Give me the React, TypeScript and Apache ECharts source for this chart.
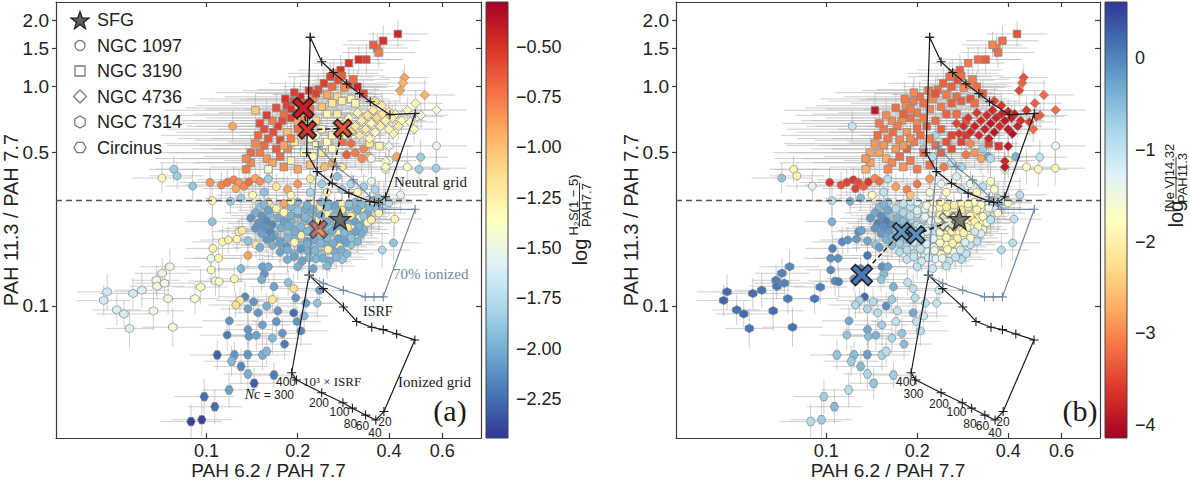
import React, { useEffect, useRef } from "react";
import * as echarts from "echarts";

// ---------------- axis / tick data ----------------
const X_TICKS = [0.1, 0.2, 0.4, 0.6];
const X_TICK_LABELS = ["0.1", "0.2", "0.4", "0.6"];
const Y_TICKS = [0.1, 0.5, 1.0, 1.5, 2.0];
const Y_TICK_LABELS = ["0.1", "0.5", "1.0", "1.5", "2.0"];
const X_LIMITS = [0.03187, 0.805];
const Y_LIMITS = [0.025, 2.433];
const X_TITLE = "PAH 6.2 / PAH 7.7";
const Y_TITLE = "PAH 11.3 / PAH 7.7";
const DIVIDER_Y = 0.3;
const CBAR_A_TICKS = [-2.25, -2.0, -1.75, -1.5, -1.25, -1.0, -0.75, -0.5];
const CBAR_A_LIMITS = [-2.444, -0.278];
const CBAR_B_TICKS = [-4, -3, -2, -1, 0];
const CBAR_B_LIMITS = [-4.14, 0.61];
const RDYLBU = ["#a50026", "#d73027", "#f46d43", "#fdae61", "#fee090", "#ffffbf", "#e0f3f8", "#abd9e9", "#74add1", "#4575b4", "#313695"];
const LEGEND_NAMES = ["SFG", "NGC 1097", "NGC 3190", "NGC 4736", "NGC 7314", "Circinus"];

// ---------------- measurements: [PAH6.2/7.7, PAH11.3/7.7, log H2/PAH7.7, log NeV/PAH11.3, xerr(dex), yerr(dex)] ----------------
const NGC7314 = [
  [0.0458, 0.106, -1.65, 0.25, 0.09, 0.07], [0.047, 0.116, -1.65, 0.2, 0.1, 0.08], [0.0506, 0.096, -1.62, 0.15, 0.08, 0.07],
  [0.0534, 0.092, -1.62, 0.22, 0.09, 0.06], [0.0557, 0.079, -1.6, 0.1, 0.08, 0.09], [0.0572, 0.114, -1.65, 0.18, 0.11, 0.07],
  [0.0612, 0.118, -1.6, 0.12, 0.09, 0.08], [0.0668, 0.095, -1.5, 0.2, 0.1, 0.09], [0.0683, 0.131, -1.5, 0.05, 0.08, 0.07],
  [0.0687, 0.123, -1.48, 0.1, 0.09, 0.06], [0.0727, 0.127, -1.5, 0.0, 0.1, 0.08], [0.0747, 0.108, -1.48, 0.08, 0.09, 0.07],
  [0.0757, 0.151, -1.5, -0.05, 0.1, 0.08], [0.0714, 0.141, -1.52, 0.02, 0.09, 0.07], [0.0774, 0.08, -1.45, 0.15, 0.1, 0.09],
  [0.0916, 0.108, -1.45, 0.1, 0.08, 0.07], [0.0956, 0.122, -1.35, 0.05, 0.09, 0.08],
];

const CIRCINUS = [
  [0.1085, 0.0598, -2.3, -0.6, 0.09, 0.07], [0.1236, 0.0598, -2.1, -0.5, 0.08, 0.06], [0.121, 0.056, -1.95, -0.7, 0.09, 0.07],
  [0.1368, 0.06, -2.1, -0.2, 0.07, 0.06], [0.153, 0.0598, -2.0, -0.8, 0.09, 0.07], [0.158, 0.062, -1.95, -0.9, 0.08, 0.06],
  [0.13, 0.053, -2.15, -0.5, 0.09, 0.08], [0.137, 0.049, -2.0, -0.8, 0.08, 0.07], [0.167, 0.0484, -2.2, -0.7, 0.07, 0.06],
  [0.1436, 0.0444, -2.3, -0.6, 0.08, 0.07], [0.1187, 0.0414, -2.05, -0.9, 0.09, 0.08], [0.0983, 0.0386, -2.25, -0.7, 0.1, 0.08],
  [0.1065, 0.0347, -2.25, -0.5, 0.09, 0.08], [0.0965, 0.0303, -2.4, -0.7, 0.1, 0.08], [0.0889, 0.0297, -2.4, -0.9, 0.1, 0.08],
];

const NGC1097 = [
  // left outliers
  [0.078, 0.42, -1.85, -1.9, 0.08, 0.06], [0.08, 0.392, -1.85, -1.9, 0.09, 0.06], [0.0713, 0.383, -1.3, -0.6, 0.1, 0.07],
  [0.09, 0.352, -1.9, -1.3, 0.09, 0.07], [0.1027, 0.366, -0.85, -3.6, 0.1, 0.07], [0.1045, 0.302, -1.3, -0.9, 0.09, 0.07],
  [0.122, 0.66, -0.9, -1.0, 0.12, 0.07],
  // band above divider
  [0.112, 0.356, -0.8, -3.4, 0.12, 0.06], [0.117, 0.366, -0.75, -3.5, 0.1, 0.06], [0.123, 0.376, -0.78, -3.6, 0.12, 0.06],
  [0.128, 0.365, -0.85, -3.45, 0.1, 0.06], [0.133, 0.351, -0.8, -3.3, 0.12, 0.07], [0.125, 0.343, -0.9, -3.5, 0.11, 0.06],
  [0.138, 0.368, -0.7, -3.6, 0.12, 0.06], [0.145, 0.382, -0.9, -3.0, 0.1, 0.06], [0.15, 0.37, -0.82, -3.2, 0.12, 0.06],
  // lower middle
  [0.1035, 0.165, -1.5, -0.1, 0.09, 0.07], [0.1035, 0.146, -1.35, -0.05, 0.08, 0.07], [0.105, 0.183, -1.3, 0.0, 0.09, 0.06],
  [0.1095, 0.165, -1.3, -0.1, 0.08, 0.06], [0.113, 0.196, -1.3, -0.05, 0.1, 0.07], [0.118, 0.2, -1.25, -0.15, 0.09, 0.06],
  [0.126, 0.202, -1.3, -0.2, 0.08, 0.06], [0.128, 0.218, -1.25, -0.1, 0.09, 0.06], [0.131, 0.221, -1.2, -0.25, 0.08, 0.07],
  [0.107, 0.13, -1.45, -0.05, 0.09, 0.07], [0.11, 0.129, -1.4, 0.05, 0.08, 0.07], [0.1236, 0.133, -1.3, -0.2, 0.09, 0.06],
  [0.1045, 0.2423, -1.9, -0.4, 0.09, 0.07], [0.13, 0.148, -1.95, 0.0, 0.08, 0.06], [0.137, 0.198, -1.9, -0.3, 0.09, 0.06],
  [0.1457, 0.19, -1.2, -0.6, 0.08, 0.06], [0.137, 0.17, -0.9, 0.1, 0.08, 0.06], [0.15, 0.185, -2.0, -0.2, 0.09, 0.06],
  [0.153, 0.151, -2.05, -0.1, 0.08, 0.06], [0.16, 0.151, -2.0, -0.3, 0.09, 0.07], [0.155, 0.14, -2.1, -0.5, 0.08, 0.06],
  [0.152, 0.132, -2.0, -0.6, 0.09, 0.06], [0.167, 0.1225, -2.05, -0.4, 0.08, 0.06], [0.134, 0.11, -2.15, 0.2, 0.09, 0.07],
  [0.129, 0.106, -1.2, -0.8, 0.08, 0.06], [0.125, 0.101, -1.15, -0.85, 0.09, 0.06], [0.143, 0.1045, -2.1, -0.9, 0.08, 0.06],
  [0.137, 0.097, -2.05, -0.8, 0.09, 0.07], [0.148, 0.093, -2.1, -0.9, 0.08, 0.07], [0.158, 0.1, -2.0, -0.1, 0.09, 0.06],
  [0.165, 0.107, -1.2, -0.7, 0.08, 0.06], [0.172, 0.095, -2.1, -1.0, 0.08, 0.07], [0.197, 0.109, -2.1, -0.9, 0.09, 0.06],
  [0.194, 0.12, -1.15, -0.95, 0.08, 0.07], [0.186, 0.128, -1.9, -1.0, 0.09, 0.06], [0.213, 0.103, -2.05, -0.9, 0.09, 0.06],
  [0.236, 0.118, -2.05, -1.1, 0.08, 0.06], [0.232, 0.103, -1.9, -1.0, 0.09, 0.07], [0.119, 0.0855, -2.1, -0.3, 0.09, 0.07],
  [0.137, 0.078, -2.1, -0.3, 0.08, 0.07], [0.153, 0.082, -2.05, -0.7, 0.09, 0.07], [0.117, 0.0737, -2.2, -0.6, 0.09, 0.07],
  [0.138, 0.0727, -2.1, -0.5, 0.08, 0.06], [0.146, 0.0735, -2.05, -0.4, 0.08, 0.07], [0.165, 0.0712, -1.95, -0.8, 0.09, 0.07],
  [0.178, 0.075, -2.1, -0.6, 0.08, 0.07], [0.181, 0.067, -2.2, -0.5, 0.09, 0.07], [0.194, 0.093, -2.25, -0.3, 0.08, 0.06],
  [0.205, 0.077, -2.15, -0.9, 0.09, 0.07], [0.199, 0.085, -2.1, -1.0, 0.08, 0.07], [0.21, 0.09, -1.95, -1.1, 0.08, 0.07],
  [0.17, 0.085, -2.1, -1.0, 0.08, 0.07],
  // central cluster
  [0.16, 0.297, -1.2, -0.7, 0.08, 0.06], [0.18, 0.293, -0.9, -1.0, 0.1, 0.05], [0.2, 0.298, -1.95, -1.3, 0.07, 0.06],
  [0.225, 0.292, -1.25, -1.8, 0.09, 0.05], [0.25, 0.296, -1.9, -1.6, 0.08, 0.06], [0.28, 0.291, -1.3, -1.9, 0.07, 0.05],
  [0.31, 0.297, -1.95, -1.8, 0.08, 0.06], [0.345, 0.293, -1.85, -1.2, 0.09, 0.05],
  [0.15, 0.282, -1.9, -0.5, 0.1, 0.06], [0.17, 0.278, -1.25, -0.9, 0.08, 0.05], [0.19, 0.283, -1.95, -1.0, 0.09, 0.06],
  [0.212, 0.277, -2.0, -1.4, 0.07, 0.05], [0.237, 0.281, -1.2, -1.9, 0.08, 0.06], [0.265, 0.279, -1.95, -1.7, 0.09, 0.05],
  [0.295, 0.283, -2.0, -1.9, 0.07, 0.06], [0.33, 0.277, -1.25, -1.8, 0.08, 0.05], [0.36, 0.281, -1.9, -1.1, 0.09, 0.06],
  [0.145, 0.266, -2.0, -0.3, 0.1, 0.06], [0.162, 0.262, -1.95, -0.6, 0.08, 0.05], [0.18, 0.267, -1.3, -0.8, 0.09, 0.06],
  [0.2, 0.263, -2.05, -1.1, 0.07, 0.05], [0.224, 0.266, -1.95, -1.5, 0.08, 0.06], [0.25, 0.262, -1.25, -1.9, 0.09, 0.05],
  [0.28, 0.267, -2.0, -1.8, 0.07, 0.06], [0.31, 0.263, -1.9, -1.9, 0.08, 0.05], [0.34, 0.266, -2.0, -1.0, 0.09, 0.06],
  [0.14, 0.251, -2.1, -0.2, 0.1, 0.06], [0.155, 0.248, -2.05, -0.1, 0.08, 0.05], [0.172, 0.252, -2.0, -0.4, 0.09, 0.06],
  [0.19, 0.247, -1.95, -0.8, 0.07, 0.05], [0.21, 0.251, -2.0, -1.1, 0.08, 0.06], [0.235, 0.248, -1.2, -1.5, 0.09, 0.05],
  [0.26, 0.252, -1.95, -1.9, 0.07, 0.06], [0.29, 0.247, -2.0, -1.8, 0.08, 0.05], [0.32, 0.251, -1.3, -1.9, 0.09, 0.06],
  [0.35, 0.248, -1.9, -1.0, 0.08, 0.05],
  [0.148, 0.238, -2.1, 0.0, 0.1, 0.06], [0.165, 0.235, -2.15, -0.1, 0.08, 0.05], [0.183, 0.239, -2.0, -0.5, 0.09, 0.06],
  [0.2, 0.234, -1.9, -0.9, 0.07, 0.05], [0.22, 0.238, -1.95, -1.2, 0.08, 0.06], [0.245, 0.235, -2.0, -1.7, 0.09, 0.05],
  [0.27, 0.239, -1.25, -1.9, 0.07, 0.06], [0.3, 0.234, -1.95, -1.8, 0.08, 0.05], [0.33, 0.238, -2.0, -1.7, 0.09, 0.06],
  [0.145, 0.226, -2.1, -0.15, 0.1, 0.06], [0.16, 0.223, -2.05, 0.05, 0.08, 0.05], [0.176, 0.227, -2.0, -0.3, 0.09, 0.06],
  [0.193, 0.222, -1.95, -0.9, 0.07, 0.05], [0.212, 0.226, -1.2, -1.3, 0.08, 0.06], [0.232, 0.223, -2.0, -1.0, 0.09, 0.05],
  [0.255, 0.227, -1.9, -1.8, 0.07, 0.06], [0.28, 0.222, -2.0, -1.9, 0.08, 0.05], [0.305, 0.226, -1.3, -1.7, 0.09, 0.06],
  [0.33, 0.223, -1.95, -1.9, 0.08, 0.05],
  [0.152, 0.214, -2.05, -0.2, 0.1, 0.06], [0.168, 0.211, -2.0, -0.6, 0.08, 0.05], [0.186, 0.215, -1.9, -0.9, 0.09, 0.06],
  [0.205, 0.21, -1.25, -1.2, 0.07, 0.05], [0.225, 0.214, -2.0, -1.0, 0.08, 0.06], [0.247, 0.211, -1.95, -1.8, 0.09, 0.05],
  [0.27, 0.215, -1.3, -1.9, 0.07, 0.06], [0.297, 0.21, -1.95, -1.7, 0.08, 0.05], [0.325, 0.214, -2.0, -1.2, 0.09, 0.06],
  [0.158, 0.201, -2.1, -0.4, 0.1, 0.06], [0.175, 0.198, -2.0, -0.7, 0.08, 0.05], [0.195, 0.202, -1.95, -1.0, 0.09, 0.06],
  [0.215, 0.197, -2.05, -1.3, 0.07, 0.05], [0.237, 0.201, -1.9, -1.8, 0.08, 0.06], [0.26, 0.198, -1.25, -1.9, 0.09, 0.05],
  [0.285, 0.202, -2.0, -1.7, 0.07, 0.06], [0.315, 0.197, -1.95, -1.0, 0.08, 0.05],
  [0.165, 0.189, -2.0, -0.5, 0.1, 0.06], [0.184, 0.186, -2.1, -0.8, 0.08, 0.05], [0.205, 0.19, -1.95, -1.0, 0.09, 0.06],
  [0.227, 0.185, -1.9, -1.4, 0.07, 0.05], [0.25, 0.189, -2.0, -1.8, 0.08, 0.06], [0.275, 0.186, -1.25, -1.9, 0.09, 0.05],
  [0.3, 0.19, -1.9, -1.0, 0.08, 0.06],
  [0.175, 0.176, -2.05, -0.9, 0.1, 0.06], [0.195, 0.173, -1.95, -1.0, 0.08, 0.05], [0.217, 0.177, -2.0, -1.3, 0.09, 0.06],
  [0.24, 0.172, -1.9, -1.8, 0.07, 0.05], [0.265, 0.176, -2.0, -1.5, 0.08, 0.06], [0.29, 0.173, -1.95, -1.0, 0.09, 0.05],
  [0.185, 0.163, -2.0, -1.0, 0.1, 0.06], [0.207, 0.16, -2.05, -1.1, 0.08, 0.05], [0.23, 0.164, -1.95, -1.3, 0.09, 0.06],
  [0.255, 0.16, -2.0, -1.0, 0.07, 0.05], [0.28, 0.163, -1.9, -0.9, 0.08, 0.06],
  [0.2, 0.151, -2.0, -1.0, 0.09, 0.06], [0.225, 0.148, -2.05, -1.1, 0.08, 0.05], [0.25, 0.152, -1.95, -1.0, 0.09, 0.06],
  // central cluster, second layer
  [0.155, 0.29, -1.95, -0.4, 0.11, 0.06], [0.19, 0.3, -1.3, -1.1, 0.09, 0.05], [0.215, 0.287, -2.0, -1.5, 0.08, 0.06],
  [0.24, 0.298, -1.95, -1.9, 0.09, 0.05], [0.265, 0.288, -2.05, -2.0, 0.08, 0.06], [0.295, 0.292, -1.9, -1.9, 0.09, 0.05],
  [0.325, 0.289, -1.95, -1.7, 0.08, 0.06], [0.355, 0.3, -1.3, -1.0, 0.09, 0.05],
  [0.16, 0.273, -2.05, -0.3, 0.1, 0.06], [0.2, 0.272, -1.9, -1.2, 0.09, 0.05], [0.225, 0.276, -2.0, -1.6, 0.08, 0.06],
  [0.25, 0.283, -1.95, -2.0, 0.09, 0.05], [0.28, 0.274, -1.2, -2.0, 0.08, 0.06], [0.315, 0.275, -2.0, -1.9, 0.09, 0.05],
  [0.345, 0.28, -1.95, -1.6, 0.08, 0.06],
  [0.152, 0.258, -2.1, -0.1, 0.1, 0.06], [0.19, 0.258, -2.0, -0.9, 0.09, 0.05], [0.212, 0.255, -1.95, -1.3, 0.08, 0.06],
  [0.238, 0.26, -2.0, -1.8, 0.09, 0.05], [0.265, 0.257, -1.95, -2.0, 0.08, 0.06], [0.3, 0.257, -1.2, -1.95, 0.09, 0.05],
  [0.33, 0.256, -1.9, -1.8, 0.08, 0.06],
  [0.158, 0.243, -2.15, 0.05, 0.1, 0.06], [0.18, 0.243, -2.05, -0.5, 0.09, 0.05], [0.222, 0.244, -1.95, -1.4, 0.08, 0.06],
  [0.25, 0.241, -2.0, -2.0, 0.09, 0.05], [0.28, 0.243, -1.95, -1.9, 0.08, 0.06], [0.31, 0.242, -2.05, -2.0, 0.09, 0.05],
  [0.34, 0.24, -1.3, -1.7, 0.08, 0.06],
  [0.154, 0.23, -2.1, -0.1, 0.1, 0.06], [0.186, 0.232, -2.0, -0.7, 0.09, 0.05], [0.205, 0.229, -1.95, -1.1, 0.08, 0.06],
  [0.24, 0.23, -2.05, -1.9, 0.09, 0.05], [0.268, 0.231, -1.95, -2.0, 0.08, 0.06], [0.292, 0.228, -1.25, -1.9, 0.09, 0.05],
  [0.318, 0.23, -2.0, -1.8, 0.08, 0.06],
  [0.162, 0.218, -2.15, -0.2, 0.1, 0.06], [0.196, 0.218, -2.0, -0.9, 0.09, 0.05], [0.215, 0.219, -1.95, -1.2, 0.08, 0.06],
  [0.238, 0.217, -1.2, -1.7, 0.09, 0.05], [0.26, 0.219, -2.0, -2.0, 0.08, 0.06], [0.285, 0.216, -1.95, -1.9, 0.09, 0.05],
  [0.31, 0.218, -2.05, -1.1, 0.08, 0.06],
  [0.165, 0.206, -2.1, -0.4, 0.1, 0.06], [0.185, 0.204, -1.95, -0.8, 0.09, 0.05], [0.226, 0.203, -2.0, -1.3, 0.08, 0.06],
  [0.25, 0.205, -1.95, -1.9, 0.09, 0.05], [0.272, 0.203, -2.05, -2.0, 0.08, 0.06], [0.3, 0.204, -1.9, -1.8, 0.09, 0.05],
  [0.175, 0.193, -2.05, -0.7, 0.1, 0.06], [0.195, 0.195, -1.3, -1.0, 0.09, 0.05], [0.215, 0.192, -2.0, -1.2, 0.08, 0.06],
  [0.238, 0.194, -1.95, -1.7, 0.09, 0.05], [0.262, 0.193, -2.0, -1.95, 0.08, 0.06], [0.288, 0.195, -2.05, -1.2, 0.09, 0.05],
  [0.185, 0.18, -2.0, -0.9, 0.1, 0.06], [0.205, 0.182, -2.1, -1.0, 0.09, 0.05], [0.228, 0.179, -1.95, -1.5, 0.08, 0.06],
  [0.252, 0.181, -1.25, -1.9, 0.09, 0.05], [0.278, 0.18, -2.0, -1.1, 0.08, 0.06],
  [0.195, 0.168, -2.05, -1.0, 0.1, 0.06], [0.218, 0.166, -1.95, -1.2, 0.09, 0.05], [0.242, 0.165, -2.0, -1.4, 0.08, 0.06],
  [0.268, 0.167, -1.95, -1.0, 0.09, 0.05],
  // right side
  [0.574, 0.537, -1.5, -1.4, 0.1, 0.08], [0.572, 0.425, -1.85, -1.9, 0.1, 0.08], [0.509, 0.477, -1.85, -1.0, 0.09, 0.08],
  [0.503, 0.42, -1.85, -1.9, 0.1, 0.08], [0.424, 0.48, -0.9, -0.4, 0.09, 0.08], [0.437, 0.321, -1.5, -0.9, 0.09, 0.08],
  [0.418, 0.249, -1.3, -1.0, 0.09, 0.08], [0.414, 0.194, -1.9, -0.9, 0.09, 0.08], [0.38, 0.18, -1.8, -0.9, 0.09, 0.08],
  [0.35, 0.247, -1.25, -1.0, 0.09, 0.08], [0.37, 0.265, -1.3, -1.7, 0.09, 0.08], [0.39, 0.42, -1.5, -1.6, 0.09, 0.08],
  [0.37, 0.31, -1.85, -0.8, 0.09, 0.08], [0.385, 0.305, -1.8, -1.7, 0.08, 0.08], [0.343, 0.48, -0.95, -0.3, 0.09, 0.08],
  [0.4, 0.46, -1.45, -1.8, 0.09, 0.08], [0.46, 0.43, -1.4, -1.7, 0.09, 0.08], [0.39, 0.3, -1.8, -1.0, 0.08, 0.06],
  [0.4, 0.295, -1.75, -1.7, 0.08, 0.06], [0.37, 0.298, -1.85, -1.5, 0.08, 0.06],
  // mixed, upper part
  [0.204, 0.87, -1.3, -0.9, 0.2, 0.07], [0.23, 0.6, -1.4, -0.8, 0.15, 0.07], [0.19, 0.55, -1.8, -0.9, 0.2, 0.07],
  [0.21, 0.52, -1.6, -0.7, 0.18, 0.07], [0.225, 0.48, -1.3, -0.9, 0.15, 0.07], [0.26, 0.45, -0.9, -1.0, 0.12, 0.07],
  [0.245, 0.43, -1.0, -3.1, 0.12, 0.07], [0.28, 0.43, -1.2, -0.8, 0.12, 0.07], [0.3, 0.55, -0.7, -3.0, 0.1, 0.07],
  [0.31, 0.5, -0.75, -2.9, 0.1, 0.07], [0.325, 0.47, -0.8, -2.8, 0.1, 0.07], [0.29, 0.49, -0.65, -3.1, 0.1, 0.07],
  [0.33, 0.52, -0.8, -0.7, 0.1, 0.07], [0.35, 0.47, -1.5, -0.9, 0.1, 0.07], [0.27, 0.39, -1.9, -1.2, 0.1, 0.06],
  [0.24, 0.36, -1.85, -1.4, 0.12, 0.06], [0.22, 0.38, -1.2, -2.9, 0.12, 0.06], [0.2, 0.36, -0.85, -3.1, 0.14, 0.06],
  [0.185, 0.34, -0.9, -3.0, 0.14, 0.06], [0.17, 0.35, -1.2, -2.8, 0.14, 0.06], [0.16, 0.38, -1.85, -0.9, 0.14, 0.06],
  [0.155, 0.33, -1.9, -1.0, 0.14, 0.06], [0.19, 0.32, -1.3, -2.5, 0.12, 0.06], [0.22, 0.33, -1.8, -1.6, 0.1, 0.06],
  [0.25, 0.33, -1.25, -1.8, 0.1, 0.06], [0.28, 0.34, -1.85, -1.0, 0.1, 0.06], [0.3, 0.36, -1.8, -1.5, 0.1, 0.06],
  [0.315, 0.33, -1.3, -1.9, 0.1, 0.06], [0.33, 0.35, -1.85, -0.9, 0.1, 0.06], [0.35, 0.37, -1.5, -1.8, 0.1, 0.06],
  [0.36, 0.34, -1.8, -1.7, 0.1, 0.06], [0.142, 0.32, -1.3, -1.8, 0.12, 0.06], [0.13, 0.31, -1.85, -0.5, 0.12, 0.06],
  [0.12, 0.3, -1.85, -0.4, 0.12, 0.06],
];

const NGC3190 = [
  [0.428, 1.74, -0.45, -3.4, 0.1, 0.06], [0.383, 1.62, -0.5, -3.2, 0.12, 0.07], [0.366, 1.5, -0.7, -3.1, 0.1, 0.06],
  [0.37, 1.43, -0.75, -3.2, 0.12, 0.07], [0.355, 1.55, -0.65, -3.0, 0.1, 0.06], [0.337, 1.33, -0.55, -3.3, 0.12, 0.07],
  [0.318, 1.33, -0.5, -3.2, 0.14, 0.06], [0.295, 1.28, -0.5, -3.1, 0.12, 0.07], [0.277, 1.19, -0.5, -3.3, 0.14, 0.07],
  [0.262, 1.15, -0.75, -3.0, 0.15, 0.06], [0.256, 1.11, -0.55, -3.2, 0.14, 0.07], [0.272, 1.07, -0.6, -3.4, 0.12, 0.06],
  [0.295, 1.02, -0.55, -3.1, 0.13, 0.07], [0.315, 1.0, -0.45, -3.2, 0.12, 0.07], [0.33, 0.93, -0.6, -3.3, 0.1, 0.06],
  [0.285, 0.99, -0.8, -3.0, 0.14, 0.07], [0.305, 1.08, -0.7, -3.1, 0.12, 0.06], [0.244, 1.036, -0.55, -3.3, 0.18, 0.07],
  [0.234, 0.97, -0.6, -3.2, 0.2, 0.07], [0.218, 0.96, -0.5, -3.1, 0.22, 0.08], [0.204, 0.9, -0.45, -3.2, 0.25, 0.07],
  [0.194, 0.86, -0.6, -3.1, 0.28, 0.08], [0.184, 0.82, -0.55, -3.0, 0.3, 0.07], [0.225, 0.88, -0.8, -3.0, 0.22, 0.07],
  [0.25, 0.92, -0.9, -3.1, 0.18, 0.07], [0.27, 0.9, -1.1, -3.2, 0.15, 0.06], [0.28, 0.86, -1.25, -3.3, 0.14, 0.07],
  [0.3, 0.88, -1.3, -3.4, 0.12, 0.06], [0.31, 0.84, -1.3, -3.2, 0.12, 0.07], [0.26, 0.84, -1.2, -3.3, 0.16, 0.07],
  [0.24, 0.81, -1.0, -3.1, 0.2, 0.07], [0.22, 0.79, -0.7, -3.0, 0.22, 0.08], [0.2, 0.76, -0.5, -3.1, 0.26, 0.08],
  [0.19, 0.72, -0.55, -3.2, 0.28, 0.07], [0.178, 0.7, -0.6, -3.0, 0.3, 0.08], [0.172, 0.66, -0.55, -3.1, 0.3, 0.07],
  [0.166, 0.62, -0.6, -3.2, 0.32, 0.08], [0.16, 0.58, -0.65, -3.1, 0.3, 0.07], [0.155, 0.54, -0.7, -2.9, 0.32, 0.08],
  [0.15, 0.5, -0.75, -2.8, 0.3, 0.07], [0.158, 0.47, -0.85, -2.7, 0.28, 0.08], [0.165, 0.45, -0.9, -3.0, 0.26, 0.07],
  [0.175, 0.48, -0.7, -3.2, 0.25, 0.07], [0.185, 0.52, -0.8, -3.3, 0.25, 0.08], [0.195, 0.56, -1.2, -3.1, 0.22, 0.07],
  [0.205, 0.6, -1.3, -3.2, 0.2, 0.07], [0.215, 0.66, -1.25, -3.3, 0.2, 0.08], [0.185, 0.62, -1.0, -2.9, 0.26, 0.07],
  [0.2, 0.68, -0.9, -3.0, 0.24, 0.07], [0.23, 0.7, -1.1, -3.2, 0.2, 0.07], [0.24, 0.64, -1.3, -3.3, 0.18, 0.07],
  [0.22, 0.58, -1.35, -3.1, 0.2, 0.07], [0.175, 0.57, -0.6, -3.0, 0.28, 0.08], [0.17, 0.52, -0.65, -2.9, 0.28, 0.07],
  [0.145, 0.78, -1.05, -3.9, 0.3, 0.08], [0.19, 0.46, -1.3, -3.1, 0.22, 0.07], [0.21, 0.5, -1.4, -3.2, 0.2, 0.07],
  [0.25, 0.56, -1.35, -3.4, 0.16, 0.07], [0.26, 0.6, -1.3, -3.5, 0.15, 0.07], [0.27, 0.75, -1.2, -3.2, 0.14, 0.07],
  [0.29, 0.7, -1.25, -3.4, 0.13, 0.07], [0.25, 0.75, -1.3, -3.3, 0.16, 0.07], [0.16, 0.42, -1.45, -3.0, 0.25, 0.07],
  [0.18, 0.43, -0.8, -2.9, 0.24, 0.07], [0.2, 0.42, -0.9, -3.1, 0.22, 0.07], [0.22, 0.44, -1.0, -3.2, 0.2, 0.07],
  [0.14, 0.45, -0.8, -2.8, 0.3, 0.07], [0.135, 0.42, -0.75, -2.7, 0.3, 0.07], [0.372, 0.535, -1.3, -3.6, 0.1, 0.07],
  [0.345, 0.55, -1.2, -3.5, 0.1, 0.07], [0.21, 0.84, -0.6, -3.2, 0.24, 0.07], [0.19, 0.79, -0.5, -3.1, 0.28, 0.08],
  [0.18, 0.75, -0.7, -3.3, 0.3, 0.07], [0.165, 0.7, -0.75, -3.0, 0.3, 0.08], [0.155, 0.64, -0.6, -3.1, 0.32, 0.07],
  [0.148, 0.6, -0.7, -3.2, 0.32, 0.08], [0.145, 0.55, -0.8, -2.9, 0.3, 0.07], [0.23, 0.93, -0.55, -3.4, 0.2, 0.07],
  [0.26, 1.0, -0.7, -3.3, 0.16, 0.07], [0.28, 1.12, -0.65, -3.2, 0.14, 0.07],
  [0.15, 0.68, -0.6, -3.1, 0.32, 0.07], [0.158, 0.74, -0.55, -3.0, 0.3, 0.08], [0.17, 0.8, -0.6, -3.2, 0.3, 0.07],
  [0.182, 0.88, -0.5, -3.1, 0.28, 0.08], [0.195, 0.94, -0.55, -3.0, 0.26, 0.07], [0.21, 0.72, -0.8, -3.1, 0.24, 0.07],
  [0.2, 0.64, -0.7, -3.2, 0.26, 0.08], [0.19, 0.58, -0.75, -3.0, 0.26, 0.07], [0.18, 0.54, -0.9, -2.9, 0.28, 0.07],
  [0.14, 0.5, -0.7, -2.8, 0.32, 0.08], [0.135, 0.47, -0.8, -2.9, 0.3, 0.07], [0.23, 0.54, -1.3, -3.2, 0.2, 0.07],
  [0.24, 0.5, -1.2, -3.3, 0.18, 0.07], [0.26, 0.52, -1.35, -3.4, 0.16, 0.07], [0.28, 0.56, -0.7, -3.5, 0.14, 0.07],
  [0.29, 0.6, -1.25, -3.6, 0.13, 0.07],
];

const NGC4736 = [
  [0.45, 1.1, -0.9, -3.4, 0.08, 0.06], [0.445, 1.04, -0.95, -3.3, 0.08, 0.06], [0.435, 0.96, -0.9, -3.5, 0.08, 0.06],
  [0.525, 0.917, -0.95, -3.2, 0.1, 0.07], [0.49, 0.84, -1.3, -3.3, 0.09, 0.06], [0.574, 0.783, -1.45, -3.2, 0.1, 0.07],
  [0.496, 0.73, -1.4, -3.4, 0.09, 0.06], [0.484, 0.64, -1.35, -3.2, 0.09, 0.06], [0.42, 0.75, -1.35, -3.9, 0.08, 0.06],
  [0.413, 0.61, -1.3, -4.0, 0.08, 0.06], [0.4, 0.535, -1.5, -3.9, 0.08, 0.06], [0.39, 0.457, -1.4, -3.8, 0.08, 0.06],
  [0.39, 0.43, -1.35, -3.9, 0.08, 0.06], [0.46, 0.78, -1.3, -3.6, 0.08, 0.06], [0.44, 0.7, -1.35, -3.7, 0.08, 0.06],
  [0.43, 0.66, -1.2, -3.8, 0.08, 0.06], [0.41, 0.72, -1.25, -3.8, 0.08, 0.06], [0.4, 0.77, -1.15, -3.7, 0.08, 0.06],
  [0.39, 0.7, -1.3, -3.9, 0.08, 0.06], [0.38, 0.75, -1.2, -3.8, 0.08, 0.06], [0.375, 0.66, -1.25, -3.7, 0.08, 0.06],
  [0.365, 0.72, -1.1, -3.8, 0.08, 0.06], [0.355, 0.78, -1.2, -3.7, 0.08, 0.06], [0.35, 0.68, -1.3, -3.9, 0.08, 0.06],
  [0.34, 0.74, -1.15, -3.7, 0.08, 0.06], [0.335, 0.64, -1.2, -3.8, 0.08, 0.06], [0.325, 0.7, -1.25, -3.7, 0.08, 0.06],
  [0.315, 0.76, -1.3, -3.6, 0.08, 0.06], [0.31, 0.66, -1.2, -3.8, 0.08, 0.06], [0.3, 0.62, -1.1, -3.7, 0.08, 0.06],
  [0.295, 0.72, -1.3, -3.6, 0.08, 0.06], [0.285, 0.66, -1.25, -3.7, 0.08, 0.06], [0.275, 0.61, -1.2, -3.6, 0.08, 0.06],
  [0.27, 0.68, -1.15, -3.5, 0.08, 0.06], [0.36, 0.62, -1.35, -3.9, 0.08, 0.06], [0.345, 0.58, -1.3, -3.8, 0.08, 0.06],
  [0.32, 0.6, -1.2, -3.7, 0.08, 0.06], [0.4, 0.64, -1.3, -3.9, 0.08, 0.06], [0.47, 0.69, -1.4, -3.6, 0.08, 0.06],
  [0.51, 0.74, -1.5, -3.3, 0.09, 0.06], [0.38, 0.82, -1.2, -3.6, 0.08, 0.06], [0.36, 0.86, -1.15, -3.5, 0.08, 0.06],
];

// binned medians (X markers) and the star-forming template
const BINS_A = [[0.2087, 0.797, -0.42, 0], [0.2151, 0.635, -0.5, 0], [0.2817, 0.646, -0.62, 0], [0.2339, 0.2238, -0.58, 0]];
const BINS_B = [[0.1312, 0.1384, 0, 0.1], [0.1778, 0.218, 0, -0.15], [0.198, 0.211, 0, -0.1], [0.2533, 0.242, 0, -1.3]];
const SFG = [0.276, 0.249];

// PAH model grids (Nc = 400 ... 20)
const NEUTRAL_ISRF = [[0.22, 1.68], [0.24, 1.3], [0.262, 1.16], [0.29, 1.03], [0.32, 0.93], [0.347, 0.854], [0.403, 0.745], [0.488, 0.755]];
const NEUTRAL_HIGH = [[0.214, 0.5], [0.232, 0.41], [0.26, 0.363], [0.295, 0.327], [0.346, 0.3], [0.358, 0.297], [0.37, 0.296], [0.39, 0.315]];
const IONIZED_ISRF = [[0.218, 0.138], [0.243, 0.12], [0.283, 0.099], [0.313, 0.085], [0.351, 0.08], [0.383, 0.078], [0.424, 0.0745], [0.487, 0.07]];
const IONIZED_HIGH = [[0.191, 0.0496], [0.198, 0.046], [0.24, 0.0402], [0.282, 0.0362], [0.303, 0.0342], [0.335, 0.0318], [0.362, 0.0302], [0.385, 0.033]];
const IONIZED_70 = [[0.234, 0.533], [0.269, 0.432], [0.305, 0.376], [0.346, 0.315], [0.372, 0.29], [0.381, 0.276], [0.488, 0.276], [0.383, 0.11], [0.357, 0.11], [0.334, 0.11], [0.283, 0.118], [0.243, 0.127], [0.217, 0.138], [0.234, 0.533]];
const NC_LABELS = ["400", "300", "200", "100", "80", "60", "40", "20"];

// ---------------- styling ----------------
const SANS = "'Liberation Sans', Arial, Helvetica, sans-serif";
const SERIF = "'Liberation Serif', 'Times New Roman', 'DejaVu Serif', serif";
const AXIS_COLOR = "#3c3c3c";
const SLATE = "#6f87a3";
const PLUS = "path://M4.4,0H5.6V4.4H10V5.6H5.6V10H4.4V5.6H0V4.4H4.4Z";
const XMARK = "path://M4,0L10,6L16,0L20,4L14,10L20,16L16,20L10,14L4,20L0,16L6,10L0,4Z";
const STAR = "path://M10,0L12.25,6.91L19.51,6.91L13.63,11.18L15.88,18.09L10,13.82L4.12,18.09L6.37,11.18L0.49,6.91L7.75,6.91Z";
const HEX_P = "path://M10,0L18.66,5L18.66,15L10,20L1.34,15L1.34,5Z";
const HEX_F = "path://M0,10L5,1.34L15,1.34L20,10L15,18.66L5,18.66Z";

const L = Math.log10;
const toLog = (p: number[]) => [L(p[0]), L(p[1]), p[2], p[3], p[4], p[5]];

const tickFormatter = (vals: number[], labels: string[]) => (v: number) => {
  for (let i = 0; i < vals.length; i++) if (Math.abs(L(vals[i]) - v) < 1e-6) return labels[i];
  return "";
};

function mainXAxes(gridIndex: number) {
  const common = {
    type: "value", gridIndex, min: L(X_LIMITS[0]), max: L(X_LIMITS[1]),
    axisLine: { show: true, onZero: false, lineStyle: { color: AXIS_COLOR, width: 1.2 } },
    splitLine: { show: false },
  };
  return [
    {
      ...common, position: "bottom",
      axisTick: { show: true, inside: true, length: 5, customValues: X_TICKS.map(L), lineStyle: { color: AXIS_COLOR, width: 1.2 } },
      axisLabel: { show: true, customValues: X_TICKS.map(L), formatter: tickFormatter(X_TICKS, X_TICK_LABELS), margin: 4, fontSize: 18, color: "#222", fontFamily: SANS },
    },
    {
      ...common, position: "top",
      axisTick: { show: true, inside: true, length: 5, customValues: X_TICKS.map(L), lineStyle: { color: AXIS_COLOR, width: 1.2 } },
      axisLabel: { show: false },
    },
  ];
}

function mainYAxes(gridIndex: number) {
  const common = {
    type: "value", gridIndex, min: L(Y_LIMITS[0]), max: L(Y_LIMITS[1]),
    axisLine: { show: true, onZero: false, lineStyle: { color: AXIS_COLOR, width: 1.2 } },
    splitLine: { show: false },
  };
  return [
    {
      ...common, position: "left",
      axisTick: { show: true, inside: false, length: 4, customValues: Y_TICKS.map(L), lineStyle: { color: AXIS_COLOR, width: 1.2 } },
      axisLabel: { show: true, customValues: Y_TICKS.map(L), formatter: tickFormatter(Y_TICKS, Y_TICK_LABELS), margin: 7, fontSize: 19, color: "#222", fontFamily: SANS },
    },
    {
      ...common, position: "right",
      axisTick: { show: true, inside: true, length: 5, customValues: Y_TICKS.map(L), lineStyle: { color: AXIS_COLOR, width: 1.2 } },
      axisLabel: { show: false },
    },
  ];
}

const cbarXAxis = (gridIndex: number) => ({ type: "value", gridIndex, min: 0, max: 1, show: false });
const cbarYAxis = (gridIndex: number, lim: number[], ticks: number[], digits: number) => ({
  type: "value", gridIndex, min: lim[0], max: lim[1], position: "right",
  axisLine: { show: false },
  splitLine: { show: false },
  axisTick: { show: true, inside: false, length: 5, customValues: ticks, lineStyle: { color: AXIS_COLOR, width: 1 } },
  axisLabel: {
    show: true, customValues: ticks, margin: 8, fontSize: 18, color: "#222", fontFamily: SANS,
    formatter: (v: number) => (v < -1e-9 ? "\u2212" : "") + Math.abs(v).toFixed(digits),
  },
});

const errRender = (params: any, api: any) => {
  const x = api.value(0), y = api.value(1), ex = api.value(4), ey = api.value(5);
  const a = api.coord([x - ex, y]), b = api.coord([x + ex, y]);
  const c = api.coord([x, y - ey]), d = api.coord([x, y + ey]);
  const st = { stroke: "rgba(175,175,175,0.6)", lineWidth: 1 };
  return {
    type: "group",
    children: [
      { type: "line", shape: { x1: a[0], y1: a[1], x2: b[0], y2: b[1] }, style: st },
      { type: "line", shape: { x1: c[0], y1: c[1], x2: d[0], y2: d[1] }, style: st },
    ],
  };
};

function buildPanel(series: any[], panel: number) {
  const axisIdx = panel === 0 ? 0 : 3;
  const ax = { xAxisIndex: axisIdx, yAxisIndex: axisIdx };
  const mapped: number[] = [];
  const all = [...NGC1097, ...NGC7314, ...CIRCINUS, ...NGC3190, ...NGC4736];
  series.push({ type: "custom", ...ax, data: all.map(toLog), encode: { x: 0, y: 1 }, renderItem: errRender, silent: true, z: 1, clip: true });

  const groups: any[] = [
    [NGC1097, "circle", 8, "NGC 1097"],
    [NGC7314, HEX_P, 8.5, "NGC 7314"],
    [CIRCINUS, HEX_F, 8.5, "Circinus"],
    [NGC3190, "rect", 7.5, "NGC 3190"],
    [NGC4736, "diamond", 9.5, "NGC 4736"],
  ];
  groups.forEach(([arr, sym, size, name]) => {
    mapped.push(series.length);
    series.push({
      type: "scatter", name, ...ax, data: arr.map(toLog), symbol: sym, symbolSize: size,
      itemStyle: { borderColor: "#858585", borderWidth: 0.7, opacity: 1 }, silent: true, z: 2,
    });
  });

  const line = (pts: number[][], color: string, extra: any = {}) => ({
    type: "line", ...ax, data: pts.map((q) => [L(q[0]), L(q[1])]), symbol: PLUS, symbolSize: 9, showSymbol: true,
    lineStyle: { color, width: 1.2 }, itemStyle: { color }, silent: true, z: 4, ...extra,
  });
  series.push(line([...NEUTRAL_ISRF, ...NEUTRAL_HIGH.slice().reverse(), NEUTRAL_ISRF[0]], "#1a1a1a", {
    markLine: {
      silent: true, symbol: ["none", "none"], label: { show: false },
      lineStyle: { type: [6, 4], color: "#555", width: 1.3 },
      data: [{ yAxis: L(DIVIDER_Y) }],
    },
  }));
  series.push(line([...IONIZED_ISRF, ...IONIZED_HIGH.slice().reverse(), IONIZED_ISRF[0]], "#1a1a1a"));
  series.push(line(IONIZED_70, SLATE));

  const bins = panel === 0 ? BINS_A : BINS_B;
  series.push({
    type: "line", ...ax, data: bins.map((b) => [L(b[0]), L(b[1])]), symbol: "none",
    lineStyle: { type: [5, 3], color: "#111", width: 1.4 }, silent: true, z: 5,
  });
  mapped.push(series.length);
  series.push({
    type: "scatter", ...ax, symbol: XMARK, silent: true, z: 6,
    itemStyle: { borderColor: "#222", borderWidth: 1.6 },
    data: bins.map((b, i) => ({
      value: [L(b[0]), L(b[1]), b[2], b[3]],
      symbolSize: i === 0 ? 21 : 18,
      itemStyle: i === 3 ? { opacity: 0.55 } : { opacity: 1 },
    })),
  });
  series.push({
    type: "scatter", ...ax, data: [[L(SFG[0]), L(SFG[1])]], symbol: STAR, symbolSize: 21, silent: true, z: 7,
    itemStyle: { color: "#5e5e5e", borderColor: "#1a1a1a", borderWidth: 1.3 },
  });
  return mapped;
}

function cbarSeries(gridAxis: number, lim: number[], colorsTopToBottom: string[]) {
  const stops = colorsTopToBottom.map((c, i) => ({ offset: i / (colorsTopToBottom.length - 1), color: c }));
  return {
    type: "custom", xAxisIndex: gridAxis, yAxisIndex: gridAxis, silent: true, clip: false,
    data: [[0.5, (lim[0] + lim[1]) / 2]],
    renderItem: (params: any, api: any) => {
      const a = api.coord([0, lim[1]]);
      const b = api.coord([1, lim[0]]);
      return {
        type: "rect",
        shape: { x: a[0], y: a[1], width: b[0] - a[0], height: b[1] - a[1] },
        style: { fill: new echarts.graphic.LinearGradient(0, 0, 0, 1, stops), stroke: "#444", lineWidth: 1 },
      };
    },
  };
}

const txt = (x: number, y: number, text: string, size: number, family: string, align = "left", fill = "#1a1a1a", extra: any = {}) => ({
  type: "text", x, y, silent: true, z: 100,
  style: { text, fill, fontSize: size, fontFamily: family, align, textAlign: align, verticalAlign: "middle", textVerticalAlign: "middle", ...extra },
});

function starPoints(cx: number, cy: number, r: number) {
  const pts: number[][] = [];
  for (let i = 0; i < 10; i++) {
    const rr = i % 2 === 0 ? r : r * 0.4;
    const a = -Math.PI / 2 + (i * Math.PI) / 5;
    pts.push([cx + rr * Math.cos(a), cy + rr * Math.sin(a)]);
  }
  return pts;
}
function polyPoints(cx: number, cy: number, r: number, n: number, start: number) {
  const pts: number[][] = [];
  for (let i = 0; i < n; i++) {
    const a = start + (i * 2 * Math.PI) / n;
    pts.push([cx + r * Math.cos(a), cy + r * Math.sin(a)]);
  }
  return pts;
}

function buildGraphics() {
  const g: any[] = [];
  // axis titles
  [[268.5, 11], [888, 631]].forEach(([xc, yc]) => {
    g.push(txt(xc, 470.5, X_TITLE, 19, SANS, "center", "#222"));
    g.push({
      type: "group", x: yc, y: 220, rotation: Math.PI / 2, silent: true, z: 100,
      children: [txt(0, 0, Y_TITLE, 20, SANS, "center", "#222")],
    });
  });

  // legend (panel a)
  const lx = 80, ly0 = 20, dy = 25.5;
  const mk = { fill: "#fff", stroke: "#7a7a7a", lineWidth: 1.3 };
  g.push({ type: "polygon", shape: { points: starPoints(lx, ly0 + 1, 9.5) }, style: { fill: "#5e5e5e", stroke: "#1a1a1a", lineWidth: 1.2 }, silent: true, z: 100 });
  g.push({ type: "circle", shape: { cx: lx, cy: ly0 + dy, r: 5 }, style: mk, silent: true, z: 100 });
  g.push({ type: "rect", shape: { x: lx - 5, y: ly0 + 2 * dy - 5, width: 10, height: 10 }, style: mk, silent: true, z: 100 });
  g.push({ type: "polygon", shape: { points: polyPoints(lx, ly0 + 3 * dy, 6.5, 4, -Math.PI / 2) }, style: mk, silent: true, z: 100 });
  g.push({ type: "polygon", shape: { points: polyPoints(lx, ly0 + 4 * dy, 6, 6, -Math.PI / 2) }, style: mk, silent: true, z: 100 });
  g.push({ type: "polygon", shape: { points: polyPoints(lx, ly0 + 5 * dy, 6, 6, 0) }, style: mk, silent: true, z: 100 });
  LEGEND_NAMES.forEach((n, i) => g.push(txt(97, ly0 + i * dy, n, 18, SANS, "left", "#222")));

  // panel a annotations
  g.push(txt(394, 182, "Neutral grid", 15, SERIF));
  g.push(txt(393, 274, "70% ionized", 15, SERIF, "left", SLATE));
  g.push(txt(363, 311, "ISRF", 14, SERIF));
  g.push(txt(398, 382, "Ionized grid", 15, SERIF));
  g.push(txt(303, 381, "10\u00b3 \u00d7 ISRF", 13, SERIF));
  g.push(txt(450, 410, "(a)", 30, SERIF, "center"));
  g.push(txt(1080, 410, "(b)", 30, SERIF, "center"));
  g.push({
    type: "text", x: 294, y: 394.5, silent: true, z: 100,
    style: {
      text: "{i|N}{s|c}{t| = 300}", align: "right", textAlign: "right", verticalAlign: "middle", textVerticalAlign: "middle", fill: "#1a1a1a",
      rich: {
        i: { fontFamily: SERIF, fontStyle: "italic", fontSize: 14, fill: "#1a1a1a" },
        s: { fontFamily: SERIF, fontSize: 14, fill: "#1a1a1a" },
        t: { fontFamily: SANS, fontSize: 12, fill: "#1a1a1a" },
      },
    },
  });
  // Nc labels along the 10^3 ISRF edge of the ionized grid
  const ncPos = [[286, 381.5], [0, 0], [319, 403], [339.5, 411.5], [350.5, 423.5], [362.5, 425.5], [375, 433], [385, 422]];
  NC_LABELS.forEach((lab, i) => {
    if (i !== 1) g.push(txt(ncPos[i][0], ncPos[i][1], lab, 12, SANS, "center"));
  });
  const ncPosB = [[906, 381.5], [913.5, 394], [939, 404], [956.5, 411.5], [970, 423.5], [982.5, 425.5], [995, 433], [1003, 422]];
  NC_LABELS.forEach((lab, i) => g.push(txt(ncPosB[i][0], ncPosB[i][1], lab, 12, SANS, "center")));

  // colorbar titles (rotated fractions)
  const frac = (cx: number, cy: number, num: string, den: string, logOffset: number, half: number) => ({
    type: "group", x: cx, y: cy, rotation: Math.PI / 2, silent: true, z: 100,
    children: [
      txt(-logOffset, 0, "log", 20, SANS, "center", "#222"),
      txt(0, -6.5, num, 13, SANS, "center", "#222"),
      txt(0, 6.5, den, 13, SANS, "center", "#222"),
      { type: "line", shape: { x1: -half, y1: 0, x2: half, y2: 0 }, style: { stroke: "#222", lineWidth: 0.9 } },
    ],
  });
  g.push(frac(579.5, 205, "H\u2082S(1 \u2212 5)", "PAH7.7", 47, 22));
  g.push(frac(1176, 178, "[Ne V]14.32", "PAH11.3", 36, 21));
  return g;
}

export default function App() {
  const ref = useRef<HTMLDivElement>(null);
  useEffect(() => {
    if (!ref.current) return;
    const chart = echarts.init(ref.current, null, { renderer: "svg", width: 1190, height: 480 });
    const series: any[] = [];
    const mappedA = buildPanel(series, 0);
    const mappedB = buildPanel(series, 1);
    series.push(cbarSeries(2, CBAR_A_LIMITS, RDYLBU));
    series.push(cbarSeries(5, CBAR_B_LIMITS, RDYLBU.slice().reverse()));

    const gridBase = { containLabel: false, outerBoundsMode: "none" };
    const option: any = {
      animation: false,
      backgroundColor: "#ffffff",
      textStyle: { fontFamily: SANS },
      grid: [
        { ...gridBase, left: 56, top: 2, width: 425, height: 436 },
        { ...gridBase, left: 486, top: 2, width: 22, height: 436 },
        { ...gridBase, left: 676, top: 2, width: 424, height: 436 },
        { ...gridBase, left: 1105, top: 2, width: 22, height: 436 },
      ],
      xAxis: [...mainXAxes(0), cbarXAxis(1), ...mainXAxes(2), cbarXAxis(3)],
      yAxis: [
        ...mainYAxes(0), cbarYAxis(1, CBAR_A_LIMITS, CBAR_A_TICKS, 2),
        ...mainYAxes(2), cbarYAxis(3, CBAR_B_LIMITS, CBAR_B_TICKS, 0),
      ],
      visualMap: [
        { type: "continuous", show: false, min: CBAR_A_LIMITS[0], max: CBAR_A_LIMITS[1], dimension: 2, seriesIndex: mappedA, inRange: { color: RDYLBU.slice().reverse() } },
        { type: "continuous", show: false, min: CBAR_B_LIMITS[0], max: CBAR_B_LIMITS[1], dimension: 3, seriesIndex: mappedB, inRange: { color: RDYLBU } },
      ],
      series,
      graphic: buildGraphics(),
    };
    chart.setOption(option);
    return () => chart.dispose();
  }, []);
  return <div ref={ref} style={{ position: "absolute", left: 0, top: 0, width: 1190, height: 480, background: "#fff" }} />;
}
